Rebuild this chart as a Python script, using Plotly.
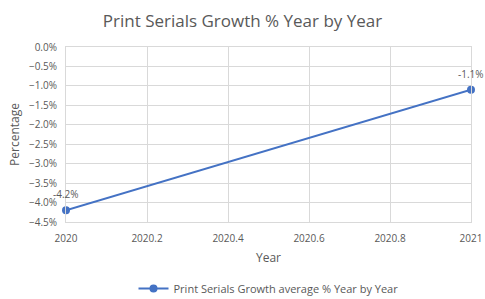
import plotly.graph_objects as go

years = [2020, 2021]
growth = [-0.042, -0.011]
labels = ["-4.2%", "-1.1%"]
series_name = "Print Serials Growth average % Year by Year"

fig = go.Figure()
fig.add_trace(go.Scatter(
    x=years, y=growth, mode="lines+markers",
    name=series_name,
    line=dict(color="#4472C4", width=2),
    marker=dict(color="#4472C4", size=8),
    cliponaxis=False,
))
for xv, yv, lab in zip(years, growth, labels):
    fig.add_annotation(x=xv, y=yv, text=lab, showarrow=False, yshift=16,
                       yanchor="middle", xanchor="center",
                       font=dict(size=10, color="#595959"))

fig.update_layout(
    width=485, height=299,
    margin=dict(l=66, r=14, t=47, b=77),
    paper_bgcolor="white", plot_bgcolor="white",
    font=dict(family="Open Sans", color="#595959", size=10),
    title=dict(text="Print Serials Growth % Year by Year", x=0.5, xanchor="center",
               y=0.93, yanchor="middle", font=dict(size=17, color="#595959")),
    showlegend=True,
    legend=dict(orientation="h", x=0.5, xanchor="center", yref="container",
                y=0.035, yanchor="middle", font=dict(size=11, color="#595959")),
)
fig.update_xaxes(
    range=[2020, 2021], dtick=0.2, tick0=2020, tickformat="~g", automargin=False,
    showgrid=True, gridcolor="#d9d9d9", zeroline=False,
    showline=True, linecolor="#d9d9d9", mirror=True,
    title=dict(text="Year", font=dict(size=12, color="#595959"), standoff=9),
    ticks="", tickfont=dict(size=10), ticklabelstandoff=7,
)
fig.update_yaxes(
    range=[-0.045, 0], dtick=0.005, tick0=0, tickformat=".1%", automargin=False,
    showgrid=True, gridcolor="#d9d9d9", zeroline=False,
    showline=True, linecolor="#d9d9d9", mirror=True,
    title=dict(text="Percentage", font=dict(size=12, color="#595959"), standoff=6),
    ticks="", tickfont=dict(size=10), ticklabelstandoff=6,
)

fig.write_html("out.html", config={"displayModeBar": False},
               post_script="document.body.style.margin='0';")
